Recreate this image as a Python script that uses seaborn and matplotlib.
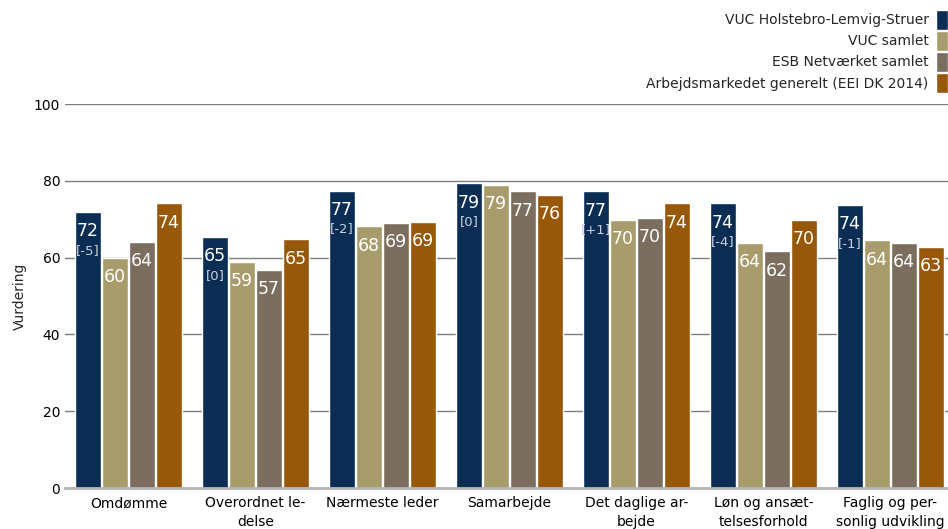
import matplotlib
matplotlib.use("Agg")
import matplotlib.pyplot as plt
import seaborn as sns
import pandas as pd

# Data
kategorier = ["Omdømme", "Overordnet le-\ndelse", "Nærmeste leder", "Samarbejde",
              "Det daglige ar-\nbejde", "Løn og ansæt-\ntelsesforhold", "Faglig og per-\nsonlig udvikling"]
serier = ["VUC Holstebro-Lemvig-Struer", "VUC samlet", "ESB Netværket samlet",
          "Arbejdsmarkedet generelt (EEI DK 2014)"]
vuc_hls = [71.9, 65.4, 77.4, 79.4, 77.3, 74.2, 73.7]
vuc_samlet = [60.0, 58.9, 68.2, 78.9, 69.8, 63.8, 64.5]
esb = [64.1, 56.9, 69.1, 77.3, 70.4, 61.7, 63.8]
arbejdsmarked = [74.2, 64.8, 69.3, 76.4, 74.2, 69.8, 62.8]
aendring = ["[-5]", "[0]", "[-2]", "[0]", "[+1]", "[-4]", "[-1]"]

farver = ["#0b2d54", "#a99c6c", "#7b6e5f", "#98580a"]

rows = []
for navn, vals in zip(serier, [vuc_hls, vuc_samlet, esb, arbejdsmarked]):
    for kat, v in zip(kategorier, vals):
        rows.append({"kategori": kat, "serie": navn, "værdi": v})
df = pd.DataFrame(rows)

sns.set_style("white")
plt.rcParams['font.family'] = ['DejaVu Sans']

fig = plt.figure(figsize=(9.48, 5.29), dpi=100)
ax = fig.add_axes([65 / 948, 41 / 529, 889 / 948, 384 / 529])

sns.barplot(data=df, x="kategori", y="værdi", hue="serie", palette=farver,
            width=0.85, gap=0.04, saturation=1, ax=ax, legend=True)

ax.set_ylim(0, 100)
ax.set_xlim(-0.5, 6.5)
ax.set_yticks([0, 20, 40, 60, 80, 100])
ax.yaxis.grid(True, color="#7f7f7f", linewidth=1)
ax.set_axisbelow(True)
for s in ["top", "right", "left"]:
    ax.spines[s].set_visible(False)
ax.spines["bottom"].set_color("#b3b3b3")
ax.spines["bottom"].set_linewidth(2)
ax.tick_params(axis="both", length=0, labelsize=10, colors="#000000")
ax.tick_params(axis="x", pad=6)
for t in ax.get_xticklabels():
    t.set_linespacing(1.45)
ax.set_xlabel("")
ax.set_ylabel("Vurdering", fontsize=10, labelpad=5)

# value labels
for i, cont in enumerate(ax.containers):
    for j, bar in enumerate(cont):
        h = bar.get_height()
        xc = bar.get_x() + bar.get_width() / 2
        ax.annotate(f"{h:.0f}", (xc, h), xytext=(0, -14), textcoords="offset points",
                    ha="center", va="center", color="white", fontsize=12.5)
        if i == 0:
            ax.annotate(aendring[j], (xc, h), xytext=(0, -27.5), textcoords="offset points",
                        ha="center", va="center", color="#c9d1de", fontsize=9.5)

handles, labels = ax.get_legend_handles_labels()
ax.legend(handles, labels, loc="upper right", bbox_to_anchor=(1.0, 0.982),
          bbox_transform=fig.transFigure, frameon=False, markerfirst=False,
          fontsize=10, handlelength=0.85, handleheight=1.85, handletextpad=0.55,
          labelspacing=0.08, borderaxespad=0, borderpad=0)

fig.savefig("out.png", dpi=100)
